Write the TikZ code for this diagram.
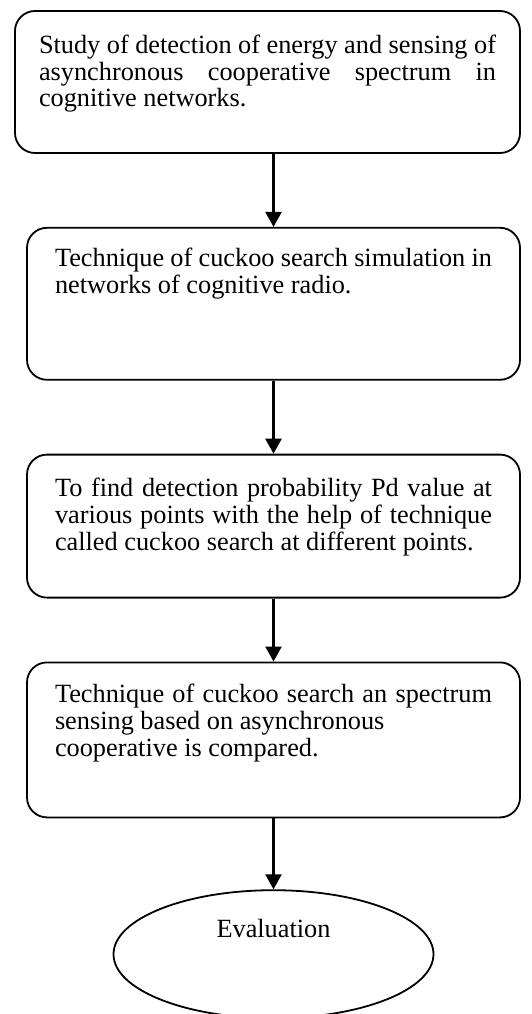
\documentclass[tikz,border=0pt]{standalone}
\usepackage{fontspec}
\setmainfont{Liberation Serif}
\usetikzlibrary{arrows.meta,positioning,shapes.geometric}

% text of a flow box, top aligned in a box of fixed height
\newcommand{\flowtext}[4]{\parbox[c][#1][t]{#2}{\hyphenpenalty=10000\rule{0pt}{#3}#4}}

\begin{document}
\begin{tikzpicture}[
  x=1pt, y=1pt,
  font=\fontsize{26.3}{27}\selectfont,
  stepbox/.style={draw, rounded corners=20pt, line width=1.8pt, inner ysep=0pt, inner xsep=28pt},
  endnode/.style={draw, ellipse, line width=1.8pt, minimum width=320pt, minimum height=128pt, text depth=52pt},
  arr/.style={-{Triangle[length=15pt,width=16pt]}, line width=2.4pt}
]
\useasboundingbox (0,0) rectangle (531,-1014);
\node[stepbox, inner xsep=24pt] (study) at (267.5,-82)
  {\flowtext{142pt}{457pt}{42pt}{Study of detection of energy and sensing of\linebreak
   asynchronous cooperative spectrum in\linebreak cognitive networks.}};
\node[stepbox, below=73pt of study, xshift=6pt] (sim)
  {\flowtext{152pt}{437pt}{39pt}{Technique of cuckoo search simulation in\linebreak
   networks of cognitive radio.}};
\node[stepbox, below=73pt of sim] (find)
  {\flowtext{143pt}{437pt}{42pt}{To find detection probability Pd value at\linebreak
   various points with the help of technique\linebreak
   called cuckoo search at different points.}};
\node[stepbox, below=63pt of find] (comp)
  {\flowtext{155pt}{437pt}{40pt}{Technique of cuckoo search an spectrum\linebreak
   sensing based on asynchronous\\ cooperative is compared.}};
\node[endnode, below=71pt of comp] (eval) {Evaluation};
\draw[arr] (study.south -| sim.north) -- (sim.north);
\draw[arr] (sim) -- (find);
\draw[arr] (find) -- (comp);
\draw[arr] (comp) -- (eval);
\end{tikzpicture}
\end{document}
